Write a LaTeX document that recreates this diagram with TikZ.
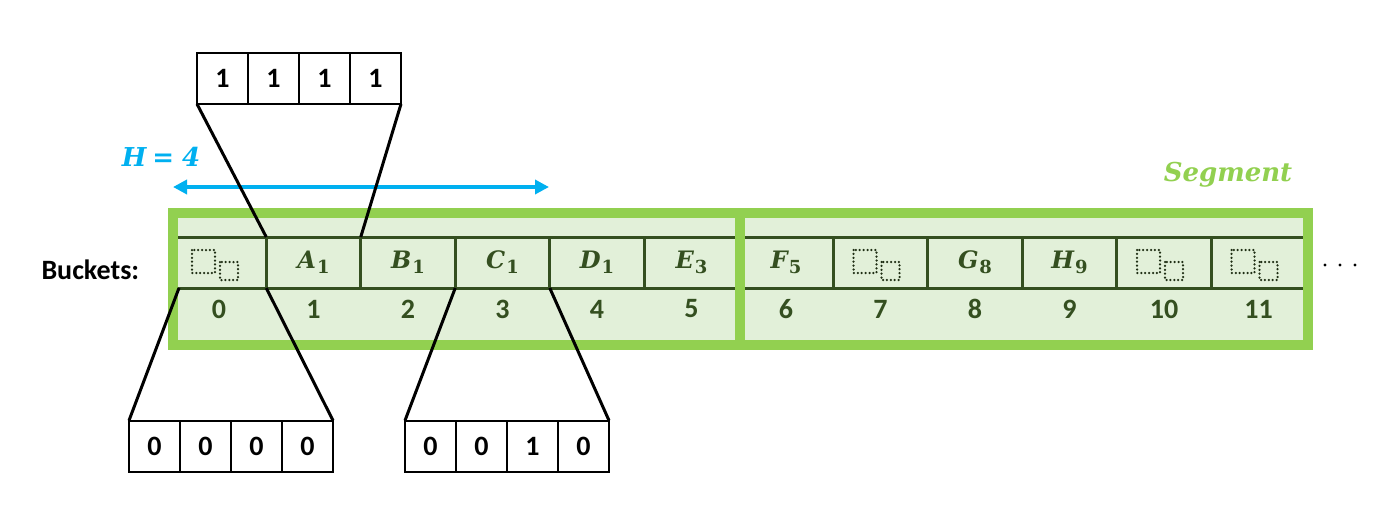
\documentclass[tikz,border=0pt]{standalone}
\usepackage{fontspec}
\setmainfont{Carlito}
\newfontfamily\cam{DejaVu Serif}
\usetikzlibrary{arrows.meta}
\definecolor{segG}{HTML}{92D050}
\definecolor{segL}{HTML}{E2F0D9}
\definecolor{dkG}{HTML}{344F20}
\definecolor{dotG}{HTML}{1F2E14}
\definecolor{hcyan}{HTML}{00B0F0}
\newcommand{\bk}[2]{{\cam\bfseries\itshape #1}\kern1pt\raisebox{-5pt}{\cam\bfseries\upshape\fontsize{18}{18}\selectfont #2}}
\begin{document}
\begin{tikzpicture}[x=1pt,y=-1pt,
  seg/.style={draw=segG, line width=10pt, fill=segL, inner sep=0, outer sep=0},
  bucket/.style={minimum width=94.5pt, minimum height=51pt, inner sep=0, outer sep=0, text=dkG, font=\cam\bfseries\itshape\fontsize{24}{24}\selectfont},
  idx/.style={text=dkG, font=\bfseries\fontsize{28}{28}\selectfont},
  bit/.style={draw, line width=2pt, minimum width=51pt, minimum height=51pt, inner sep=0, outer sep=0, font=\bfseries\fontsize{28}{28}\selectfont},
  link/.style={line width=3pt, black},
  rule/.style={dkG, line width=3pt},
  emptysq/.style={dotG, line width=2.5pt, line cap=round, dash pattern=on 0pt off 3.9pt}]
\useasboundingbox (0,0) rectangle (1400,528);
% segments
\node[seg, minimum width=567pt, minimum height=132pt] (seg1) at (456.5,279) {};
\node[seg, minimum width=568pt, minimum height=132pt] (seg2) at (1024,279) {};
% buckets
\node[bucket, minimum width=87pt] (b0) at (222.5,262.5) {};
\foreach \i in {1,...,11} {
  \node[bucket] (b\i) at ({219+94.5*\i},262.5) {};
}
\draw[rule] (178,237) -- (735,237);
\draw[rule] (178,288) -- (735,288);
\draw[rule] (745,237) -- (1303,237);
\draw[rule] (745,288) -- (1303,288);
\foreach \i in {1,2,3,4,5,7,8,9,10,11} {
  \draw[rule] (b\i.north west) -- (b\i.south west);
}
\node[bucket] at (b1) {\bk{A}{1}};
\node[bucket] at (b2) {\bk{B}{1}};
\node[bucket] at (b3) {\bk{C}{1}};
\node[bucket] at (b4) {\bk{D}{1}};
\node[bucket] at (b5) {\bk{E}{3}};
\node[bucket] at (b6) {\bk{F}{5}};
\node[bucket] at (b8) {\bk{G}{8}};
\node[bucket] at (b9) {\bk{H}{9}};
\foreach \x in {219,880.5,1164,1258.5} {
  \draw[emptysq] (\x-27,250) rectangle (\x-4,273);
  \draw[emptysq] (\x+1,262) rectangle (\x+19,280);
}
\foreach \i in {0,...,11} {
  \node[idx] (n\i) at ({219+94.5*\i},309) {\i};
}
\foreach \x in {1325,1340,1355} {
  \fill (\x,265) circle (1.7pt);
}
\node[font=\bfseries\fontsize{28}{28}\selectfont, anchor=west] (lab) at (38,270) {Buckets:};
% H = 4
\node[text=hcyan, font=\cam\bfseries\itshape\fontsize{26}{26}\selectfont] (H) at (161,157) {H\kern6pt=\kern8pt4};
\coordinate (hL) at (173,187);
\coordinate (hR) at (549,187);
\draw[hcyan, line width=4pt, {Triangle[length=14pt,width=14pt]}-{Triangle[length=14pt,width=14pt]}] (hL) -- (hR);
\node[text=segG, font=\cam\bfseries\itshape\fontsize{26}{26}\selectfont] (seglab) at (1228,175) {Segment};
% bitmaps
\foreach \v [count=\k] in {1,1,1,1} {
  \node[bit] (t\k) at ({197+25.5+51*(\k-1)},78.5) {\v};
}
\foreach \v [count=\k] in {0,0,0,0} {
  \node[bit] (l\k) at ({129+25.5+51*(\k-1)},446) {\v};
}
\foreach \v [count=\k] in {0,0,1,0} {
  \node[bit] (r\k) at ({405+25.5+51*(\k-1)},446) {\v};
}
% links
\draw[link] (t1.south west) -- (b1.north west);
\draw[link] (t4.south east) -- (b2.north west);
\draw[link] (l1.north west) -- (b0.south west);
\draw[link] (l4.north east) -- (b1.south west);
\draw[link] (r1.north west) -- (b3.south west);
\draw[link] (r4.north east) -- (b4.south west);
\end{tikzpicture}
\end{document}
